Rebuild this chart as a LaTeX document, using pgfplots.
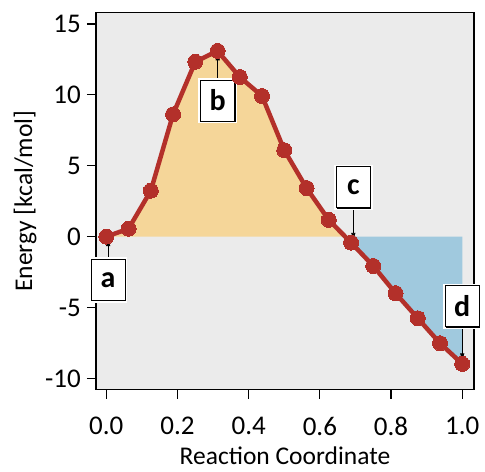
\documentclass[border=0pt]{standalone}
\usepackage{fontspec}
\setmainfont{Carlito}
\usepackage{pgfplots}
\pgfplotsset{compat=1.18}
\usetikzlibrary{arrows.meta,shadows}
\definecolor{bggray}{HTML}{EBEBEB}
\definecolor{curvered}{HTML}{B3302A}
\definecolor{upfill}{HTML}{F5D699}
\definecolor{downfill}{HTML}{A0C9DE}
\tikzset{lbl/.style={on layer=axis foreground, draw=black, line width=0.9pt, fill=white,
  font=\fontsize{30}{32}\selectfont\bfseries,
  minimum width=34pt, minimum height=41pt, inner sep=0pt,
  preaction={draw=white, line width=4.5pt},
  drop shadow={shadow xshift=1.1pt, shadow yshift=-1.1pt, opacity=1, fill=black}},
  arr/.style={on layer=axis foreground, -{Latex[length=8pt,width=4.5pt]}, line width=0.8pt}}
\begin{document}
\begin{tikzpicture}
\begin{axis}[
  set layers,
  width=378pt, height=377pt, scale only axis,
  xmin=-0.029, xmax=1.033, ymin=-10.8, ymax=15.8,
  axis background/.style={fill=bggray},
  axis line style={line width=1.3pt},
  tick align=outside, major tick length=9pt, tick pos=left,
  every tick/.style={black, line width=1.2pt},
  xtick={0,0.2,0.4,0.6,0.8,1.0}, ytick={-10,-5,0,5,10,15},
  xticklabels={0.0,0.2,0.4,0.6,0.8,1.0},
  yticklabels={-10,-5,0,5,10,15},
  ticklabel style={font=\fontsize{27}{30}\selectfont, inner sep=0pt},
  xticklabel style={anchor=north, yshift=-18pt},
  yticklabel style={anchor=east, xshift=-6pt},
  label style={font=\fontsize{25.5}{28}\selectfont},
  xlabel={Reaction Coordinate}, ylabel={Energy [kcal/mol]},
  xlabel style={at={([yshift=-66pt]axis description cs:0.5,0)}, anchor=center},
  ylabel style={at={([xshift=-71pt]axis description cs:0,0.5)}, anchor=center},
  clip=false,
]
\coordinate (sw) at (rel axis cs:0,0);
\coordinate (ne) at (rel axis cs:1,1);
% area above zero (barrier)
\addplot[fill=upfill, draw=none] coordinates {
  (0,0) (0.0625,0.56) (0.125,3.24) (0.1875,8.63) (0.25,12.34) (0.3125,13.1)
  (0.375,11.26) (0.4375,9.92) (0.5,6.1) (0.5625,3.43) (0.625,1.18) (0.671,0)};
% area below zero
\addplot[fill=downfill, draw=none] coordinates {
  (0.671,0) (0.6875,-0.42) (0.75,-2.07) (0.8125,-3.99) (0.875,-5.76)
  (0.9375,-7.52) (1.0,-8.98) (1.0,0)};
% energy profile
\addplot[curvered, line width=4.5pt, mark=*, mark size=7.5pt,
  mark options={fill=curvered, draw=curvered, line width=0pt}] coordinates {
  (0,0) (0.0625,0.56) (0.125,3.24) (0.1875,8.63) (0.25,12.34) (0.3125,13.1)
  (0.375,11.26) (0.4375,9.92) (0.5,6.1) (0.5625,3.43) (0.625,1.18)
  (0.6875,-0.42) (0.75,-2.07) (0.8125,-3.99) (0.875,-5.76) (0.9375,-7.52) (1.0,-8.98)};
% labels
\draw[arr] (axis cs:0.005,-1.6) -- (axis cs:0.005,-0.1);
\node[lbl] at (axis cs:0.005,-3.05) {a};
\draw[arr] (axis cs:0.313,11.1) -- (axis cs:0.313,13.0);
\node[lbl] at (axis cs:0.313,9.6) {b};
\draw[arr] (axis cs:0.694,2.0) -- (axis cs:0.694,-0.3);
\node[lbl] at (axis cs:0.694,3.48) {c};
\draw[arr] (axis cs:1.0,-6.4) -- (axis cs:1.0,-8.8);
\node[lbl] at (axis cs:1.0,-4.92) {d};
\end{axis}
\pgfresetboundingbox
\path ([shift={(-96pt,-82pt)}]sw) rectangle ([shift={(11pt,12.7pt)}]ne);
\end{tikzpicture}
\end{document}
